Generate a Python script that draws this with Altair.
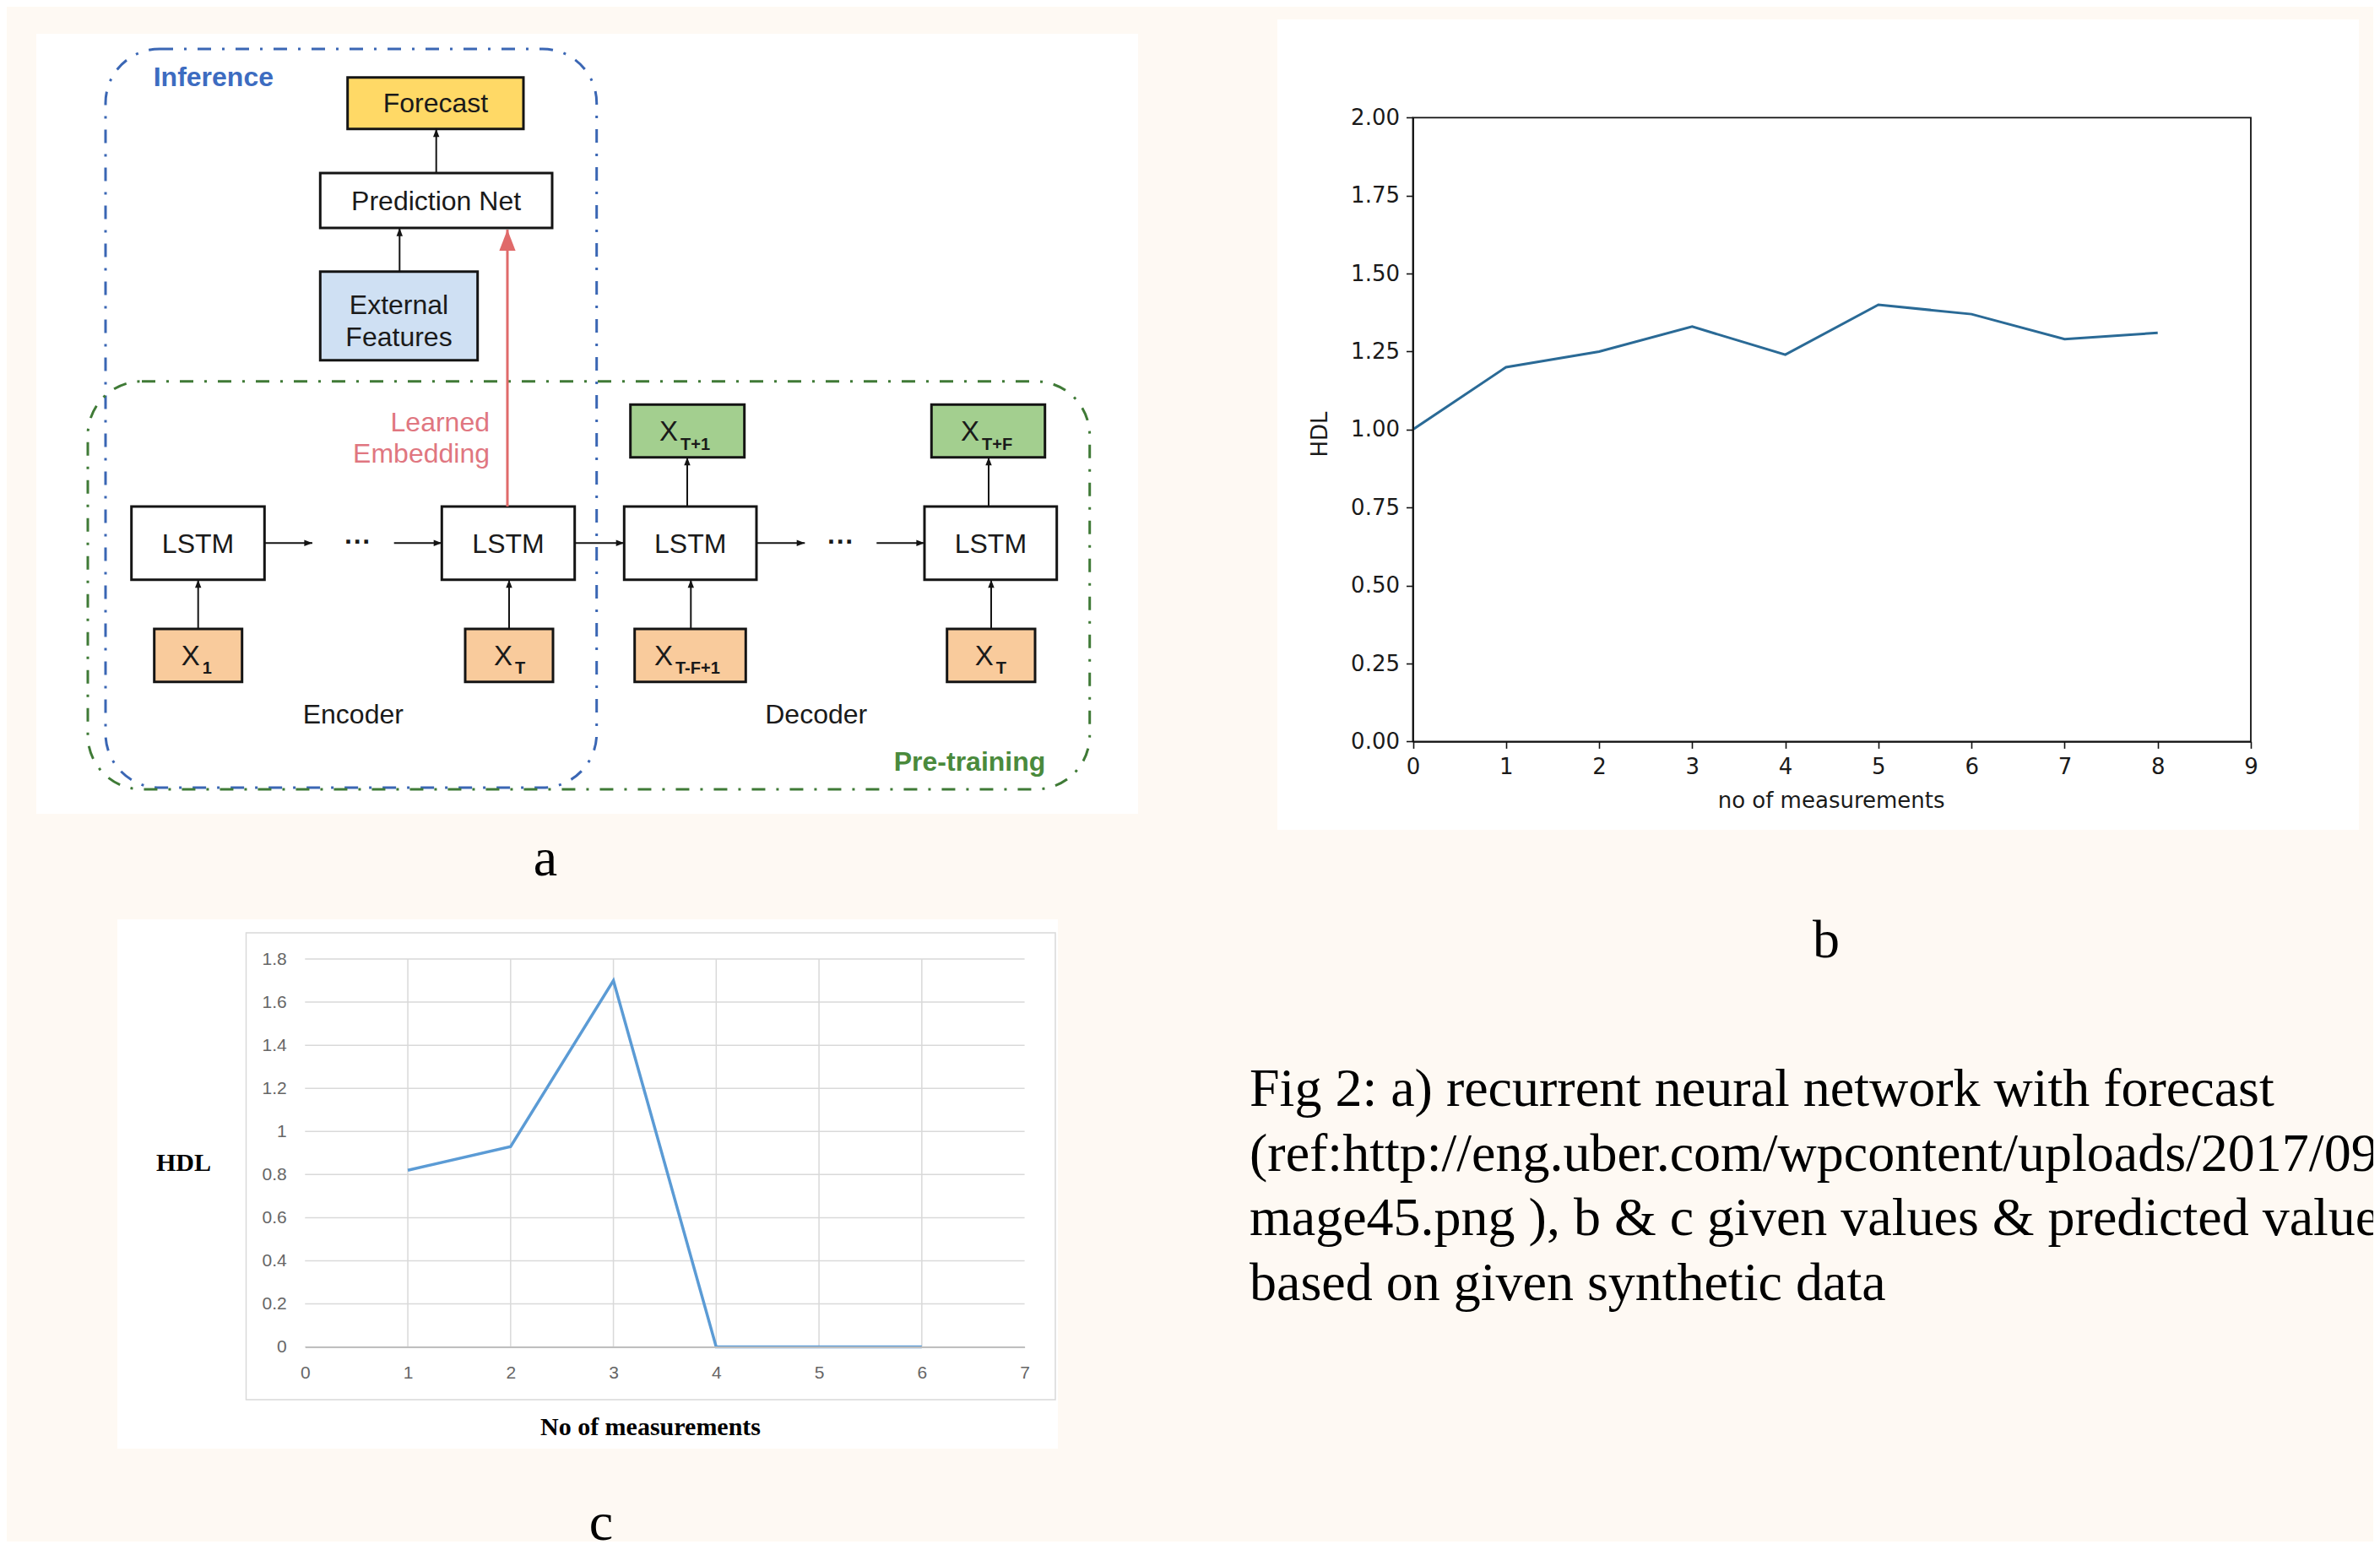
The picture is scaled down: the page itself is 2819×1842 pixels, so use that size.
import altair as alt
import pandas as pd

# ---------------- chart values ----------------
# panel b (python / matplotlib plot)
b_measurements = [0, 1, 2, 3, 4, 5, 6, 7, 8]
b_hdl = [1.00, 1.20, 1.25, 1.33, 1.24, 1.40, 1.37, 1.29, 1.31]
b_x_ticks = [0, 1, 2, 3, 4, 5, 6, 7, 8, 9]
b_y_ticks = [0.0, 0.25, 0.5, 0.75, 1.0, 1.25, 1.5, 1.75, 2.0]

# panel c (spreadsheet plot)
c_measurements = [1, 2, 3, 4, 5, 6]
c_hdl = [0.82, 0.93, 1.70, 0.0, 0.0, 0.0]
c_x_ticks = [0, 1, 2, 3, 4, 5, 6, 7]
c_y_ticks = [0.0, 0.2, 0.4, 0.6, 0.8, 1.0, 1.2, 1.4, 1.6, 1.8]
c_x_grid = [1, 2, 3, 4, 5, 6]

caption_lines = [
    "Fig 2: a) recurrent neural network with forecast",
    "(ref:http://eng.uber.com/wpcontent/uploads/2017/09/i",
    "mage45.png ), b & c given values & predicted values",
    "based on given synthetic data",
]
panel_letters = ["a", "b", "c"]

# panel a (diagram) texts
box_labels = ["Forecast", "Prediction Net", "External", "Features",
              "LSTM", "LSTM", "LSTM", "LSTM", "Encoder", "Decoder"]
x_subscripts = ["1", "T", "T-F+1", "T", "T+1", "T+F"]

# ---------------- page geometry ----------------
# chart kept a little smaller than the window so the page never scrolls
W, H = 2803, 1818
BG = "#fef9f3"
XS = alt.Scale(domain=[0, 2819], range=[-8, 2811], nice=False, zero=False)
YS = alt.Scale(domain=[0, 1842], range=[-8, 1834], nice=False, zero=False)


def px(f):
    return alt.X(f"{f}:Q", scale=XS, axis=None)


def py(f):
    return alt.Y(f"{f}:Q", scale=YS, axis=None)


# white panels behind a, b, c
panels = pd.DataFrame({"x0": [43, 1513, 139], "x1": [1348, 2794, 1253],
                       "y0": [40, 23, 1089], "y1": [964, 983, 1716]})
panel_layer = alt.Chart(panels).mark_rect(color="#ffffff").encode(
    x=px("x0"), x2="x1", y=py("y0"), y2="y1")

c_box = pd.DataFrame({"x0": [291.5], "x1": [1250], "y0": [1105], "y1": [1658]})
c_box_layer = alt.Chart(c_box).mark_rect(fill="#ffffff", stroke="#d9d9d9", strokeWidth=1.5).encode(
    x=px("x0"), x2="x1", y=py("y0"), y2="y1")

# dash-dot group outlines
loops = pd.DataFrame({"x0": [125, 104], "x1": [706.7, 1290.7], "y0": [58, 451.7], "y1": [933, 935],
                      "col": ["#3a66b4", "#3f7a36"]})
loop_layer = alt.Chart(loops).mark_rect(filled=False, cornerRadius=64, strokeWidth=3,
                                        strokeDash=[16, 13, 3, 13]).encode(
    x=px("x0"), x2="x1", y=py("y0"), y2="y1", stroke=alt.Stroke("col:N", scale=None))

YEL, WHT, LBL, ORG, GRN = "#ffd966", "#ffffff", "#cfe0f3", "#f9cb9c", "#a3cf8f"
boxes = pd.DataFrame({
    "x0": [411.7, 379.3, 379.3, 155.7, 523.3, 739.3, 1095, 182.7, 551, 751.7, 1121.7, 746.7, 1103.3],
    "x1": [620, 654, 565.7, 313.3, 680.7, 896, 1251.7, 286.7, 655, 883.3, 1226, 881.7, 1237.7],
    "y0": [91.7, 205, 321.7, 600, 600, 600, 600, 745, 745, 745, 745, 479.3, 479.3],
    "y1": [152.7, 270, 426.7, 686.7, 686.7, 686.7, 686.7, 807.7, 807.7, 807.7, 807.7, 541.7, 541.7],
    "fill": [YEL, WHT, LBL, WHT, WHT, WHT, WHT, ORG, ORG, ORG, ORG, GRN, GRN],
})
box_layer = alt.Chart(boxes).mark_rect(stroke="#141414", strokeWidth=3).encode(
    x=px("x0"), x2="x1", y=py("y0"), y2="y1", fill=alt.Fill("fill:N", scale=None))

# arrows
up_arrows = pd.DataFrame({
    "x0": [516.7, 473.3, 234.7, 603, 818.3, 1174, 814, 1171],
    "y0": [205, 321.7, 745, 745, 745, 745, 600, 600],
    "y1": [152.7, 270, 686.7, 686.7, 686.7, 686.7, 541.7, 541.7],
})
up_arrows["x1"] = up_arrows["x0"]
right_arrows = pd.DataFrame({
    "x0": [313.3, 466.7, 680.7, 896, 1038.3],
    "x1": [370, 523.3, 739.3, 953.3, 1095],
    "y0": [643.3] * 5,
})
right_arrows["y1"] = right_arrows["y0"]
red_arrow = pd.DataFrame({"x0": [601], "x1": [601], "y0": [600], "y1": [272]})

UP_HEAD = "M0,0L-0.5,1.3L0.5,1.3Z"
RIGHT_HEAD = "M0,0L-1.3,-0.5L-1.3,0.5Z"


def shaft(df, color, width):
    return alt.Chart(df).mark_rule(color=color, strokeWidth=width).encode(
        x=px("x0"), x2="x1", y=py("y0"), y2="y1")


def head(df, shape, color, size):
    return alt.Chart(df).mark_point(shape=shape, filled=True, color=color, size=size,
                                    opacity=1, strokeWidth=0).encode(x=px("x1"), y=py("y1"))


arrow_layers = [
    shaft(up_arrows, "#141414", 2), head(up_arrows, UP_HEAD, "#141414", 220),
    shaft(right_arrows, "#141414", 2), head(right_arrows, RIGHT_HEAD, "#141414", 220),
    shaft(red_arrow, "#e06a6a", 3), head(red_arrow, UP_HEAD, "#e06a6a", 1480),
]

# diagram text
lab_df = pd.DataFrame({
    "t": box_labels,
    "x": [516, 516.6, 472.5, 472.5, 234.5, 602, 817.7, 1173.4, 418.3, 966.7],
    "y": [133, 248.5, 371.7, 410, 655, 655, 655, 655, 856.7, 856.7],
})
lab_layer = alt.Chart(lab_df).mark_text(font="Liberation Sans", fontSize=32, align="center",
                                        baseline="alphabetic", color="#1a1a1a").encode(
    x=px("x"), y=py("y"), text="t:N")

dots_df = pd.DataFrame({"t": ["···", "···"], "x": [424, 996], "y": [652, 652]})
dots_layer = alt.Chart(dots_df).mark_text(font="Liberation Sans", fontSize=32, fontWeight="bold",
                                          align="center", baseline="alphabetic",
                                          color="#1a1a1a").encode(
    x=px("x"), y=py("y"), text="t:N")

xmain_df = pd.DataFrame({
    "t": ["X"] * 6,
    "x": [236.7, 607, 797, 1176.7, 803, 1160],
    "y": [787.7, 787.7, 787.7, 787.7, 521.7, 521.7],
})
xmain_layer = alt.Chart(xmain_df).mark_text(font="Liberation Sans", fontSize=33, align="right",
                                            baseline="alphabetic", color="#1a1a1a").encode(
    x=px("x"), y=py("y"), text="t:N")
xsub_df = pd.DataFrame({
    "t": x_subscripts,
    "x": [239.7, 610, 800, 1179.7, 806, 1163],
    "y": [798.3, 798.3, 798.3, 798.3, 533, 533],
})
xsub_layer = alt.Chart(xsub_df).mark_text(font="Liberation Sans", fontSize=20, fontWeight="bold",
                                          align="left", baseline="alphabetic",
                                          color="#1a1a1a").encode(
    x=px("x"), y=py("y"), text="t:N")

inf_layer = alt.Chart(pd.DataFrame({"t": ["Inference"], "x": [181.7], "y": [101.7]})).mark_text(
    font="Liberation Sans", fontSize=32, fontWeight="bold", align="left", baseline="alphabetic",
    color="#3d6cc1").encode(x=px("x"), y=py("y"), text="t:N")
emb_layer = alt.Chart(pd.DataFrame({"t": ["Learned", "Embedding"], "x": [580, 580],
                                    "y": [510.7, 548.3]})).mark_text(
    font="Liberation Sans", fontSize=32, align="right", baseline="alphabetic",
    color="#e07680").encode(x=px("x"), y=py("y"), text="t:N")
pre_layer = alt.Chart(pd.DataFrame({"t": ["Pre-training"], "x": [1238.3], "y": [913.3]})).mark_text(
    font="Liberation Sans", fontSize=32, fontWeight="bold", align="right", baseline="alphabetic",
    color="#4a8a3c").encode(x=px("x"), y=py("y"), text="t:N")

# caption + panel letters
cap_df = pd.DataFrame({"t": caption_lines, "x": [1480] * 4, "y": [1310, 1387, 1463, 1540]})
cap_layer = alt.Chart(cap_df).mark_text(font="Liberation Serif", fontSize=64, align="left",
                                        baseline="alphabetic", color="#000000").encode(
    x=px("x"), y=py("y"), text="t:N")
let_df = pd.DataFrame({"t": panel_letters, "x": [646, 2163, 712], "y": [1037, 1134, 1824]})
let_layer = alt.Chart(let_df).mark_text(font="Liberation Serif", fontSize=64, align="center",
                                        baseline="alphabetic", color="#000000").encode(
    x=px("x"), y=py("y"), text="t:N")

canvas = alt.layer(panel_layer, c_box_layer, loop_layer, box_layer, *arrow_layers,
                   lab_layer, dots_layer, xmain_layer, xsub_layer, inf_layer, emb_layer,
                   pre_layer, cap_layer, let_layer)

# ---------------- panel b ----------------
BX = alt.Scale(domain=[b_x_ticks[0], b_x_ticks[-1]], range=[1665.5, 2658], nice=False, zero=False)
BY = alt.Scale(domain=[b_y_ticks[0], b_y_ticks[-1]], range=[870.4, 131.3], nice=False, zero=False)
B_FONT = "DejaVu Sans"
b_xaxis = alt.Axis(orient="bottom", offset=870.4 - H, values=b_x_ticks, format="d",
                   title="no of measurements", titleX=2160.6, titleY=69.6, titleAlign="center",
                   titleBaseline="middle", titleFont=B_FONT, titleFontSize=26, titleFontWeight="normal",
                   titleColor="#1a1a1a", labelFont=B_FONT, labelFontSize=26, labelColor="#1a1a1a",
                   labelPadding=9, tickSize=8, tickColor="#111111", tickWidth=1.6,
                   domainColor="#111111", domainWidth=1.8, grid=False, labelFlush=False,
                   labelOverlap=False, zindex=2)
b_yaxis = alt.Axis(orient="left", offset=-1665.5, values=b_y_ticks, format=".2f",
                   title="HDL", titleX=-110, titleY=506, titleAngle=270, titleAlign="center",
                   titleBaseline="middle", titleFont=B_FONT, titleFontSize=26, titleFontWeight="normal",
                   titleColor="#1a1a1a", labelFont=B_FONT, labelFontSize=26, labelColor="#1a1a1a",
                   labelPadding=8, tickSize=8, tickColor="#111111", tickWidth=1.6,
                   domainColor="#111111", domainWidth=1.8, grid=False, labelFlush=False,
                   labelOverlap=False, zindex=2)
b_df = pd.DataFrame({"n": b_measurements, "hdl": b_hdl})
b_frame_df = pd.DataFrame({"x0": [b_x_ticks[0]], "x1": [b_x_ticks[-1]],
                           "y0": [b_y_ticks[0]], "y1": [b_y_ticks[-1]]})
b_frame = alt.Chart(b_frame_df).mark_rect(filled=False, stroke="#111111", strokeWidth=1.8).encode(
    x=alt.X("x0:Q", scale=BX, axis=b_xaxis), x2="x1",
    y=alt.Y("y0:Q", scale=BY, axis=b_yaxis), y2="y1")
b_line = alt.Chart(b_df).mark_line(color="#2a6a96", strokeWidth=3).encode(
    x=alt.X("n:Q", scale=BX, axis=b_xaxis), y=alt.Y("hdl:Q", scale=BY, axis=b_yaxis))
chart_b = alt.layer(b_frame, b_line)

# ---------------- panel c ----------------
CX = alt.Scale(domain=[c_x_ticks[0], c_x_ticks[-1]], range=[353.3, 1205.6], nice=False, zero=False)
CY = alt.Scale(domain=[c_y_ticks[0], c_y_ticks[-1]], range=[1587.6, 1128], nice=False, zero=False)
C_FONT = "Liberation Sans"
c_xaxis = alt.Axis(orient="bottom", offset=1587.6 - H, values=c_x_ticks, format="d",
                   title="No of measurements", titleX=762, titleY=95, titleAlign="center",
                   titleBaseline="middle", titleFont="Liberation Serif", titleFontSize=30,
                   titleFontWeight="bold", titleColor="#000000", labelFont=C_FONT, labelFontSize=21,
                   labelColor="#666666", labelPadding=20, ticks=False, domainColor="#bfbfbf",
                   domainWidth=2, grid=False, labelFlush=False, labelOverlap=False, zindex=2)
c_yaxis = alt.Axis(orient="left", offset=-353.3, values=c_y_ticks, format="~g",
                   title="HDL", titleX=-176.8, titleY=1369.6, titleAngle=0, titleAlign="left",
                   titleBaseline="middle", titleFont="Liberation Serif", titleFontSize=30,
                   titleFontWeight="bold", titleColor="#000000", labelFont=C_FONT, labelFontSize=21,
                   labelColor="#666666", labelPadding=22, ticks=False, domain=False, grid=False,
                   labelFlush=False, labelOverlap=False, zindex=2)
c_hgrid_df = pd.DataFrame({"y": c_y_ticks, "x0": [c_x_ticks[0]] * len(c_y_ticks),
                           "x1": [c_x_ticks[-1]] * len(c_y_ticks)})
c_vgrid_df = pd.DataFrame({"x": c_x_grid, "y0": [c_y_ticks[0]] * len(c_x_grid),
                           "y1": [c_y_ticks[-1]] * len(c_x_grid)})
c_hgrid = alt.Chart(c_hgrid_df).mark_rule(color="#d9d9d9", strokeWidth=1.5).encode(
    x=alt.X("x0:Q", scale=CX, axis=c_xaxis), x2="x1", y=alt.Y("y:Q", scale=CY, axis=c_yaxis))
c_vgrid = alt.Chart(c_vgrid_df).mark_rule(color="#d9d9d9", strokeWidth=1.5).encode(
    x=alt.X("x:Q", scale=CX, axis=c_xaxis), y=alt.Y("y0:Q", scale=CY, axis=c_yaxis), y2="y1")
c_df = pd.DataFrame({"n": c_measurements, "hdl": c_hdl})
c_line = alt.Chart(c_df).mark_line(color="#5b9bd5", strokeWidth=3.5).encode(
    x=alt.X("n:Q", scale=CX, axis=c_xaxis), y=alt.Y("hdl:Q", scale=CY, axis=c_yaxis))
chart_c = alt.layer(c_hgrid, c_vgrid, c_line)

chart = (
    alt.layer(canvas, chart_c, chart_b)
    .resolve_scale(x="independent", y="independent")
    .properties(width=W, height=H, background=BG, padding=0,
                autosize=alt.AutoSizeParams(type="none"))
    .configure_view(strokeWidth=0)
)

chart.save("out.html", embed_options={"renderer": "svg", "actions": False})
